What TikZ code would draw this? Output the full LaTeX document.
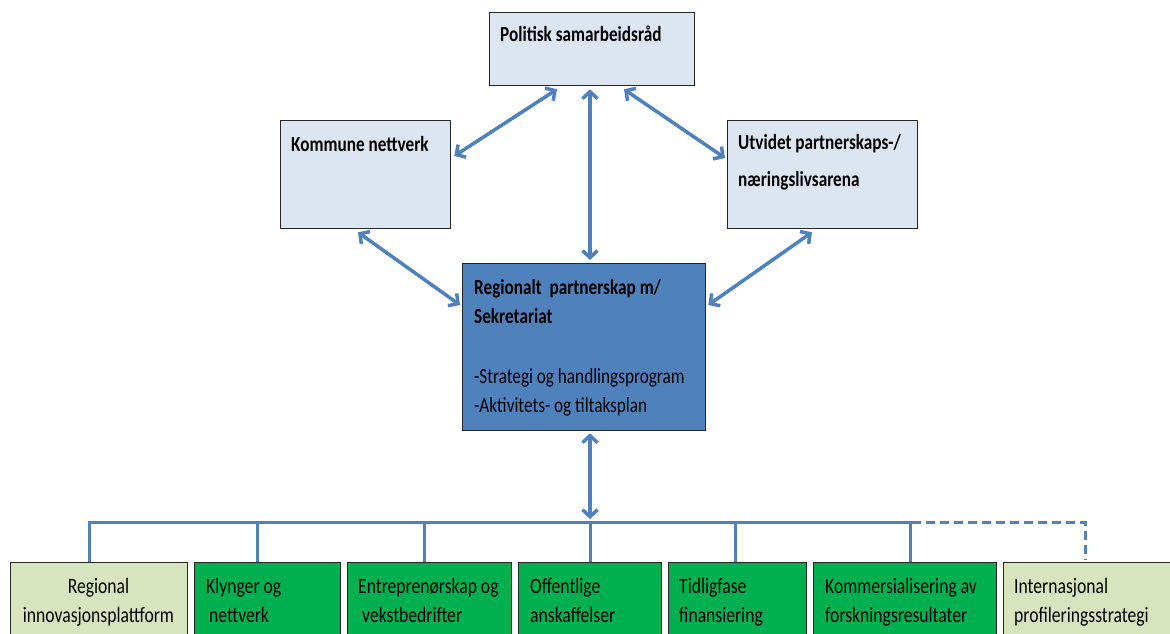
\documentclass[tikz,border=0pt]{standalone}
\usepackage{fontspec}
\setmainfont{Carlito}[FakeStretch=0.8]
\usetikzlibrary{arrows.meta,calc}
\definecolor{lightbox}{RGB}{220,230,242}
\definecolor{regblue}{RGB}{79,129,189}
\definecolor{arrowblue}{RGB}{79,129,189}
\definecolor{lightgreen}{RGB}{215,228,189}
\definecolor{darkgreen}{RGB}{0,176,80}
\tikzset{
  topbox/.style={draw=black!85, line width=1.3pt, fill=lightbox, inner sep=0pt, anchor=north west},
  regbox/.style={draw=black!85, line width=1.3pt, fill=regblue, inner sep=0pt, anchor=north west},
  botbox/.style={draw=black!85, line width=1.3pt, inner sep=0pt, anchor=north west, minimum height=100pt},
  boldtxt/.style={anchor=base west, inner sep=0pt, font=\fontsize{21.5}{26}\selectfont\bfseries},
  regtxt/.style={anchor=base west, inner sep=0pt, font=\fontsize{21.5}{26}\selectfont},
  bottxt/.style={anchor=base west, inner sep=0pt, font=\fontsize{22}{28}\selectfont},
  dbl/.style={draw=arrowblue, line width=3.5pt, {Straight Barb[length=7pt,width=15pt,line width=3.5pt]}-{Straight Barb[length=7pt,width=15pt,line width=3.5pt]}},
  bus/.style={draw=arrowblue, line width=3pt},
}
\begin{document}
\begin{tikzpicture}[x=1pt,y=-1pt]
\clip (0,0) rectangle (1170,634);
\fill[white] (0,0) rectangle (1170,634);
% top boxes
\node[topbox, minimum width=205pt, minimum height=73pt] (pol) at (489,12) {};
\node[boldtxt] (poltxt) at (500,42) {Politisk samarbeidsråd};
\node[topbox, minimum width=170pt, minimum height=108pt] (kom) at (280,120) {};
\node[boldtxt] (komtxt) at (291,151) {Kommune nettverk};
\node[topbox, minimum width=190pt, minimum height=108pt] (utv) at (727,120) {};
\node[boldtxt] (utvtxt1) at (738,149) {Utvidet partnerskaps-/};
\node[boldtxt] (utvtxt2) at (738,186) {næringslivsarena};
\node[regbox, minimum width=243pt, minimum height=167pt] (reg) at (462,263) {};
\node[boldtxt] (regtxt1) at (474,294) {Regionalt\ \ partnerskap m/};
\node[boldtxt] (regtxt2) at (474,323) {Sekretariat};
\node[regtxt] (regtxt3) at (474,383) {-Strategi og handlingsprogram};
\node[regtxt] (regtxt4) at (474,412) {-Aktivitets- og tiltaksplan};
% bottom boxes
\node[botbox, fill=lightgreen, minimum width=177pt] (b1) at (10,562) {};
\node[bottxt, anchor=base] (b1t1) at (98.5,593) {Regional};
\node[bottxt, anchor=base] (b1t2) at (98.5,622) {innovasjonsplattform};
\node[botbox, fill=darkgreen, minimum width=146pt] (b2) at (194,562) {};
\node[bottxt] (b2t1) at (206,593) {Klynger og};
\node[bottxt] (b2t2) at (209,622) {nettverk};
\node[botbox, fill=darkgreen, minimum width=164pt] (b3) at (347,562) {};
\node[bottxt] (b3t1) at (358,593) {Entreprenørskap og};
\node[bottxt] (b3t2) at (362,622) {vekstbedrifter};
\node[botbox, fill=darkgreen, minimum width=143pt] (b4) at (518,562) {};
\node[bottxt] (b4t1) at (530,593) {Offentlige};
\node[bottxt] (b4t2) at (530,622) {anskaffelser};
\node[botbox, fill=darkgreen, minimum width=138pt] (b5) at (668,562) {};
\node[bottxt] (b5t1) at (679,593) {Tidligfase};
\node[bottxt] (b5t2) at (679,622) {finansiering};
\node[botbox, fill=darkgreen, minimum width=183pt] (b6) at (813,562) {};
\node[bottxt] (b6t1) at (825,593) {Kommersialisering av};
\node[bottxt] (b6t2) at (825,622) {forskningsresultater};
\node[botbox, fill=lightgreen, minimum width=170pt] (b7) at (1003,562) {};
\node[bottxt] (b7t1) at (1014,593) {Internasjonal};
\node[bottxt] (b7t2) at (1014,622) {profileringsstrategi};
% bus
\coordinate (busL) at (89,522);
\coordinate (busM) at (590,522);
\coordinate (busR) at (912,522);
\coordinate (busE) at (1085,522);
\draw[bus] (b1.north -| busL) -- (busL) -- (busR);
\draw[bus, dash pattern=on 9pt off 5pt] (busR) -- (busE) -- ($(b7.north -| busE)+(0,-2)$);
\foreach \b/\x in {b2/257,b3/424,b4/590,b5/735,b6/910}{
  \draw[bus] (\x,522) -- (\b.north -| {(\x,0)});
}
% arrows
\draw[dbl] ($(pol.south west)+(68,3)$) -- ($(kom.north east)+(3,36)$);
\draw[dbl] ($(pol.south west)+(101,3)$) -- ($(reg.north west)+(128,-3)$);
\draw[dbl] ($(pol.south west)+(135,3)$) -- ($(utv.north west)+(-2,38)$);
\draw[dbl] ($(kom.south west)+(78,3)$) -- ($(reg.north west)+(-2,42)$);
\draw[dbl] ($(utv.south west)+(85,3)$) -- ($(reg.north east)+(2,42)$);
\draw[dbl] ($(reg.south west)+(128,2)$) -- ($(busM)+(0,-3)$);
\end{tikzpicture}
\end{document}
